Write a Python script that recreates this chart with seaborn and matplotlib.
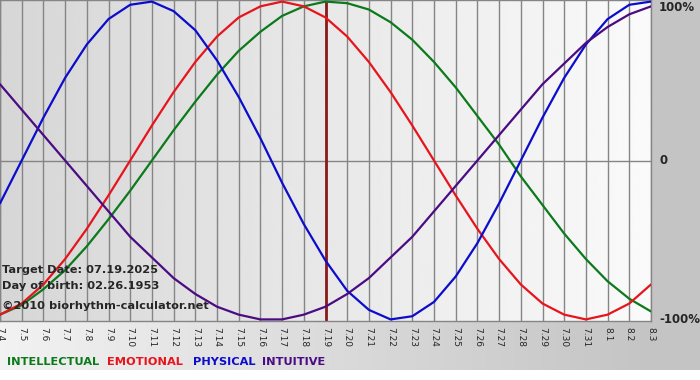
import numpy as np
import pandas as pd
import seaborn as sns
import matplotlib
matplotlib.use("Agg")
import matplotlib.pyplot as plt

# Day labels along the bottom (July 4 to August 3)
days = ["7.4", "7.5", "7.6", "7.7", "7.8", "7.9", "7.10", "7.11", "7.12", "7.13",
        "7.14", "7.15", "7.16", "7.17", "7.18", "7.19", "7.20", "7.21", "7.22", "7.23",
        "7.24", "7.25", "7.26", "7.27", "7.28", "7.29", "7.30", "7.31", "8.1", "8.2", "8.3"]

# Cycle values per day (-1 .. 1)
intellectual = [-0.97, -0.91, -0.81, -0.69, -0.54, -0.37, -0.19, 0.00, 0.19, 0.37,
                0.54, 0.69, 0.81, 0.91, 0.97, 1.00, 0.99, 0.95, 0.87, 0.76,
                0.62, 0.46, 0.28, 0.10, -0.10, -0.28, -0.46, -0.62, -0.76, -0.87, -0.95]
emotional = [-0.97, -0.90, -0.78, -0.62, -0.43, -0.22, 0.00, 0.22, 0.43, 0.62,
             0.78, 0.90, 0.97, 1.00, 0.97, 0.90, 0.78, 0.62, 0.43, 0.22,
             0.00, -0.22, -0.43, -0.62, -0.78, -0.90, -0.97, -1.00, -0.97, -0.90, -0.78]
physical = [-0.27, 0.00, 0.27, 0.52, 0.73, 0.89, 0.98, 1.00, 0.94, 0.82,
            0.63, 0.40, 0.14, -0.14, -0.40, -0.63, -0.82, -0.94, -1.00, -0.98,
            -0.89, -0.73, -0.52, -0.27, 0.00, 0.27, 0.52, 0.73, 0.89, 0.98, 1.00]
intuitive = [0.48, 0.32, 0.16, 0.00, -0.16, -0.32, -0.48, -0.61, -0.74, -0.84,
             -0.92, -0.97, -1.00, -1.00, -0.97, -0.92, -0.84, -0.74, -0.61, -0.48,
             -0.32, -0.16, 0.00, 0.16, 0.32, 0.48, 0.61, 0.74, 0.84, 0.92, 0.97]

target_day = "7.19"
info_lines = ["Target Date: 07.19.2025", "Day of birth: 02.26.1953"]
credit = "\u00a92010 biorhythm-calculator.net"

colors = {"INTELLECTUAL": "#0b7a1b", "EMOTIONAL": "#e8141c",
          "PHYSICAL": "#0c0ccc", "INTUITIVE": "#4b0b82"}

sns.set_style("white")
plt.rcParams["font.family"] = ["DejaVu Sans"]

df = pd.DataFrame({"day": range(len(days)), "INTELLECTUAL": intellectual,
                   "EMOTIONAL": emotional, "PHYSICAL": physical, "INTUITIVE": intuitive})
long = df.melt(id_vars="day", var_name="cycle", value_name="value")

fig = plt.figure(figsize=(7, 3.8), dpi=100)

# background: grey right strip and gradient strip under the plot
bg = fig.add_axes([0, 0, 1, 1])
bg.set_axis_off()
img = np.ones((380, 700, 3))
img[:370, 651:] = 0.77
img[321:370, :651] = np.linspace(0.95, 0.77, 651)[None, :, None]
bg.imshow(img, aspect="auto", extent=(0, 700, 380, 0))
bg.set_xlim(0, 700)
bg.set_ylim(380, 0)

ax = fig.add_axes([0, 1 - 321 / 380, 651 / 700, 321 / 380])
n = len(days) - 1
grad = np.linspace(0.84, 0.98, 256)[None, :]
ax.imshow(grad, cmap="gray", vmin=0, vmax=1, aspect="auto",
          extent=(0, n, -1.01, 1.01), zorder=0)

for i in range(len(days)):
    ax.axvline(i, color="#858585", lw=1, zorder=1)
ax.axhline(0, color="#858585", lw=1, zorder=1)
ax.axvline(days.index(target_day), color="#8b1a1a", lw=2, zorder=2)

sns.lineplot(data=long, x="day", y="value", hue="cycle", palette=colors,
             linewidth=1.6, legend=False, ax=ax, zorder=3)

ax.set_xlim(0, n)
ax.set_ylim(-1.01, 1.01)
ax.set_xlabel("")
ax.set_ylabel("")
ax.set_yticks([])
ax.set_xticks(range(len(days)))
ax.set_xticklabels(days, rotation=270, fontsize=6.5)
ax.tick_params(axis="x", length=3, width=1, color="#858585", pad=1)
for s in ax.spines.values():
    s.set_color("#858585")
    s.set_linewidth(1)

ty = ax.get_yaxis_transform()
ax.text(1 + 8 / 651, 0.96, "100%", transform=ty, fontsize=8.5, fontweight="bold",
        va="center", clip_on=False)
ax.text(1 + 8 / 651, 0.0, "0", transform=ty, fontsize=8.5, fontweight="bold",
        va="center", clip_on=False)
ax.text(1 + 8 / 651, -1.0, "-100%", transform=ty, fontsize=8.5, fontweight="bold",
        va="center", clip_on=False)

ax.text(2 / 651, -0.69, info_lines[0], transform=ty, fontsize=8.2, fontweight="bold",
        va="center", zorder=5)
ax.text(2 / 651, -0.79, info_lines[1], transform=ty, fontsize=8.2, fontweight="bold",
        va="center", zorder=5)
ax.text(2 / 651, -0.915, credit, transform=ty, fontsize=8.2, fontweight="bold",
        va="center", zorder=5)

legend_x = [7, 107, 193, 262]
for (name, col), x in zip(colors.items(), legend_x):
    fig.text(x / 700, 1 - 362 / 380, name, color=col, fontsize=8.2,
             fontweight="bold", va="center")

fig.savefig("out.png", dpi=100)
